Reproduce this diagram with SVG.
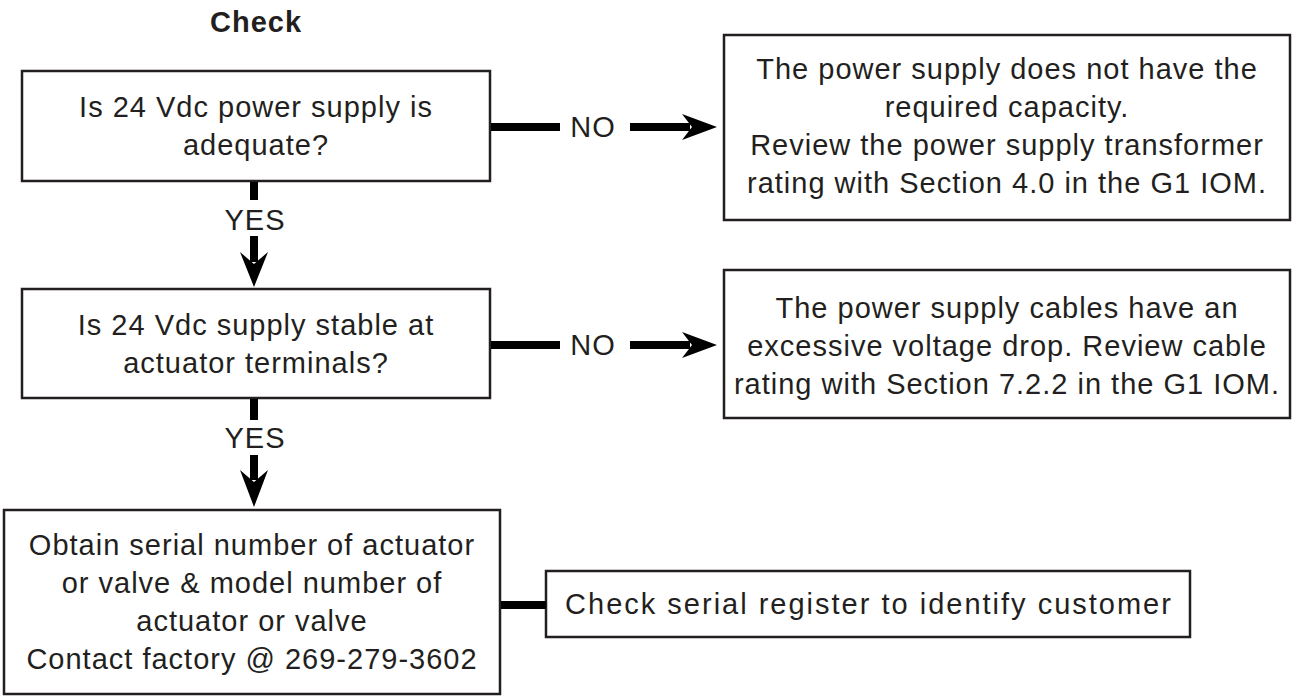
<svg xmlns="http://www.w3.org/2000/svg" width="1303" height="696" viewBox="0 0 1303 696">
<style>
.box{fill:#fff;stroke:#231f20;stroke-width:2.5}
.t{font-family:"Liberation Sans",Arial,sans-serif;font-size:29px;fill:#231f20;text-anchor:middle;letter-spacing:1px}
.b{font-weight:bold}
.w{letter-spacing:2px}
.ln{stroke:#000;stroke-width:8;fill:none}
.ah{fill:#000}
</style>
<rect width="1303" height="696" fill="#fff"/>
<text class="t b" x="256" y="32">Check</text>
<g id="n1"><rect class="box" x="22" y="71" width="468" height="110"/>
<text class="t" x="256" y="117">Is 24 Vdc power supply is</text>
<text class="t" x="256" y="155">adequate?</text></g>
<g id="n2"><rect class="box" x="724" y="35" width="566" height="185"/>
<text class="t" x="1007" y="79">The power supply does not have the</text>
<text class="t" x="1007" y="117">required capacity.</text>
<text class="t" x="1007" y="155">Review the power supply transformer</text>
<text class="t" x="1007" y="193">rating with Section 4.0 in the G1 IOM.</text></g>
<g id="n3"><rect class="box" x="22" y="289" width="468" height="109"/>
<text class="t" x="256" y="335">Is 24 Vdc supply stable at</text>
<text class="t" x="256" y="373">actuator terminals?</text></g>
<g id="n4"><rect class="box" x="724" y="270" width="566" height="148"/>
<text class="t" x="1007" y="318">The power supply cables have an</text>
<text class="t" x="1007" y="356">excessive voltage drop. Review cable</text>
<text class="t" x="1007" y="394">rating with Section 7.2.2 in the G1 IOM.</text></g>
<g id="n5"><rect class="box" x="4" y="510" width="496" height="184"/>
<text class="t" x="252" y="555">Obtain serial number of actuator</text>
<text class="t" x="252" y="593">or valve &amp; model number of</text>
<text class="t" x="252" y="631">actuator or valve</text>
<text class="t" x="252" y="669">Contact factory @ 269-279-3602</text></g>
<g id="n6"><rect class="box" x="546" y="571" width="644" height="66"/>
<text class="t w" x="869" y="614">Check serial register to identify customer</text></g>
<g id="connectors">
<line class="ln" x1="491" y1="127" x2="560" y2="127"/>
<text class="t" x="593" y="137">NO</text>
<line class="ln" x1="630" y1="127" x2="690" y2="127"/>
<polygon class="ah" points="717,127 682,114 692,127 682,140"/>
<line class="ln" x1="491" y1="345" x2="560" y2="345"/>
<text class="t" x="593" y="355">NO</text>
<line class="ln" x1="630" y1="345" x2="690" y2="345"/>
<polygon class="ah" points="717,345 682,332 692,345 682,358"/>
<line class="ln" x1="254" y1="182" x2="254" y2="200"/>
<text class="t" x="255" y="230">YES</text>
<line class="ln" x1="254" y1="236" x2="254" y2="262"/>
<polygon class="ah" points="254,287 268,252 254,264 240,252"/>
<line class="ln" x1="254" y1="399" x2="254" y2="420"/>
<text class="t" x="255" y="448">YES</text>
<line class="ln" x1="254" y1="455" x2="254" y2="480"/>
<polygon class="ah" points="254,507 268,470 254,482 240,470"/>
<line class="ln" x1="501" y1="605" x2="546" y2="605"/>
</g>
</svg>
